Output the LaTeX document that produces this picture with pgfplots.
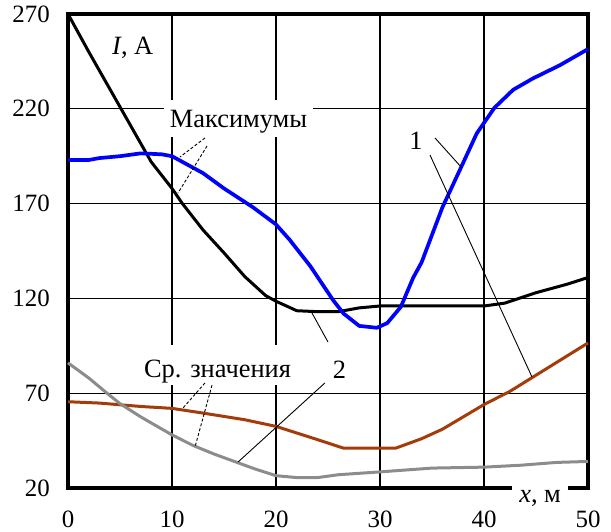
\documentclass[border=0pt]{standalone}
\usepackage{fontspec}
\setmainfont{Liberation Serif}
\usepackage{pgfplots}
\pgfplotsset{compat=1.18}
\definecolor{cbrown}{RGB}{163,60,10}
\definecolor{cgray}{RGB}{140,140,140}
\definecolor{cblue}{RGB}{0,0,255}
\newcommand\lf{\fontsize{25}{30}\selectfont}
\newcommand\tf{\fontsize{26.5}{31}\selectfont}
\begin{document}
\begin{tikzpicture}
\begin{axis}[
  at={(0bp,0bp)}, anchor=south west,
  scale only axis, width=520bp, height=474bp,
  xmin=0, xmax=50, ymin=20, ymax=270,
  xtick={0,10,...,50}, ytick={20,70,...,270},
  grid=major, grid style={black, line width=1.3bp},
  major tick length=0pt,
  axis line style={black, line width=3.5bp},
  /pgf/number format/assume math mode=true,
  tick label style={font=\lf},
  xticklabel style={anchor=north, inner sep=0pt, yshift=-23bp},
  yticklabel style={anchor=east, inner sep=0pt, xshift=-18bp},
  clip=false,
]
% Maximum, curve 2 (black)
\addplot[black, line width=3bp, line join=round] coordinates {
(0,270) (2,250) (5,221) (8,192) (10,178) (11,170) (13,156) (15,144) (17,131.5) (19,121.5) (20,118.5) (22,113.5) (24,113) (26,113) (28,115) (30,116) (35,116) (40,116) (42,117.5) (45,123) (48,127.5) (50,131)
};
% Maximum, curve 1 (blue)
\addplot[cblue, line width=3.7bp, line join=round] coordinates {
(0,193) (2,193) (3,194) (5,195) (7,196.5) (9,196) (10,195) (11,192) (13,186) (15,178) (17.8,168) (20,159) (21.3,151) (23.3,137) (25.5,119) (26.5,112) (28,105.5) (29.7,104.5) (30.7,107) (32,115.5) (33.2,131) (34,139) (36,168) (37.7,188) (39.3,207) (41,220.5) (42.8,230) (44.7,236) (47.3,243) (50,251.5)
};
% Average, curve 1 (brown)
\addplot[cbrown, line width=3bp, line join=round] coordinates {
(0,65.5) (3,64.8) (7,63) (10,62) (13,59.5) (17,56) (20,52.5) (24,45.5) (26.5,41) (31.5,41) (34,46) (36,51) (38,57.5) (40,64) (42.5,71) (45,79.5) (47.5,88) (50,96.5)
};
% Average, curve 2 (gray)
\addplot[cgray, line width=3bp, line join=round] coordinates {
(0,86) (2,78) (3.75,70) (5,64.5) (7,57.5) (10,48) (12,42.5) (14,38) (16.5,33) (18,30) (20,26.5) (22,25.5) (24,25.5) (26,27) (30,28.5) (35,30.5) (40,31) (43.5,32) (47,33.5) (50,34)
};
% labels
\node[fill=white, inner xsep=6bp, inner ysep=0pt, text height=28bp, text depth=9bp, anchor=base, font=\tf] at (axis cs:16.4,209.9) {Максимумы};
\node[fill=white, inner xsep=6bp, inner ysep=0pt, text height=32bp, text depth=8bp, anchor=base, font=\tf] at (axis cs:14.375,78.5) {Ср. значения};
\node[fill=white, inner sep=2bp, anchor=base, font=\tf] at (axis cs:33.46,198.3) {1};
\node[fill=white, inner sep=2bp, anchor=base, font=\tf] at (axis cs:26.1,78.0) {2};
\node[fill=white, inner sep=2bp, anchor=base west, font=\tf] at (axis cs:4.04,248.4) {\textit{I}, А};
\node[fill=white, inner xsep=7bp, inner ysep=2bp, text height=18bp, text depth=5bp, anchor=base west, font=\tf] at (axis cs:42.7,12.1) {\textit{x}, м};
% leaders
\draw[black, line width=0.9bp, densely dashed] (axis cs:13.17,204.6) -- (axis cs:10.77,194.6);
\draw[black, line width=0.9bp, densely dashed] (axis cs:13.37,200.4) -- (axis cs:10.58,175.6);
\draw[black, line width=0.9bp, densely dashed] (axis cs:13.17,75.4) -- (axis cs:11.06,62.2);
\draw[black, line width=0.9bp, densely dashed] (axis cs:13.85,74.3) -- (axis cs:12.21,41.6);
\draw[black, line width=0.9bp] (axis cs:35.29,204.6) -- (axis cs:37.88,188.8);
\draw[black, line width=0.9bp] (axis cs:34.81,195.6) -- (axis cs:44.62,78.5);
\draw[black, line width=0.9bp] (axis cs:25,97) -- (axis cs:23.46,112.3);
\draw[black, line width=0.9bp] (axis cs:24.7,75.4) -- (axis cs:16.35,33.7);
\end{axis}
\pgfresetboundingbox
\path (-68bp,-44bp) rectangle (543bp,488bp);
\end{tikzpicture}
\end{document}
